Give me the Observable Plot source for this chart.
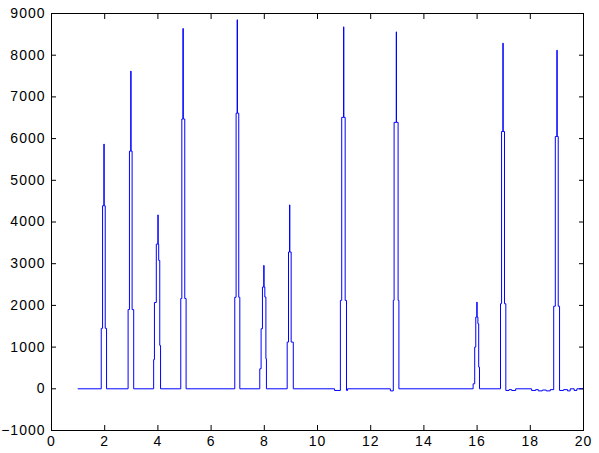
<!DOCTYPE html>
<html><head><meta charset="utf-8">
<script src="https://cdn.jsdelivr.net/npm/d3@7"></script>
<script src="https://cdn.jsdelivr.net/npm/@observablehq/plot@0.6"></script>
<style>body{margin:0;background:#fff} svg text{letter-spacing:1px}</style>
</head><body><div id="chart"></div>
<script>
// Signal sample positions (x) and values held until the next sample (step-after)
const sampleX = [
  1.0,
  1.87, 1.92, 1.97, 1.98, 2.02, 2.07,
  2.88, 2.93, 2.98, 2.99, 3.03, 3.09,
  3.84, 3.87, 3.94, 4.0, 4.01, 4.03, 4.07, 4.1,
  4.86, 4.9, 4.94, 4.955, 5.01, 5.06,
  6.89, 6.94, 6.98, 6.99, 7.04, 7.08,
  7.83, 7.88, 7.93, 7.98, 7.99, 8.02, 8.06, 8.08,
  8.86, 8.91, 8.95, 8.96, 9.01, 9.09,
  10.64, 10.86, 10.91, 10.98, 10.99, 11.04, 11.09, 11.13,
  12.74, 12.85, 12.88, 12.96, 12.97, 13.03, 13.06,
  15.85, 15.91, 15.95, 15.99, 16.0, 16.03, 16.06, 16.09,
  16.88, 16.92, 16.97, 16.98, 17.03, 17.08, 17.2, 17.3, 17.45,
  18.05, 18.2, 18.3, 18.45, 18.6, 18.75,
  18.88, 18.94, 19.0, 19.01, 19.05, 19.1, 19.25, 19.4, 19.5, 19.65, 19.75, 20.0
];
const sampleY = [
  0,
  1450, 4390, 5870, 4390, 1450, 0,
  1900, 5700, 7620, 5700, 1900, 0,
  700, 2070, 3470, 4170, 3470, 3080, 1040, 0,
  2165, 6470, 8640, 6470, 2165, 0,
  2195, 6610, 8850, 6610, 2195, 0,
  480, 1440, 2440, 2960, 2440, 2200, 720, 0,
  1120, 3280, 4410, 3280, 1120, 0,
  -40, 2120, 6510, 8680, 6510, 2120, -40, 0,
  -50, 2120, 6390, 8560, 6390, 2120, 0,
  120, 1000, 1720, 2080, 1720, 1560, 520, 0,
  2040, 6170, 8290, 6170, 2040, -40, -20, -40, 0,
  -40, -20, -50, -30, -50, -20,
  1980, 6050, 8120, 6050, 1980, -40, -20, -50, 0, -40, 0, 0
];
const xTicks = [0, 2, 4, 6, 8, 10, 12, 14, 16, 18, 20];
const yTicks = [-1000, 0, 1000, 2000, 3000, 4000, 5000, 6000, 7000, 8000, 9000];

const data = sampleX.map((x, i) => ({x, y: sampleY[i]}));

const chart = Plot.plot({
  width: 599, height: 453,
  marginLeft: 51, marginRight: 16, marginTop: 13, marginBottom: 23,
  style: {fontFamily: "'Liberation Sans', Arial, sans-serif", fontSize: "14px", background: "#fff", color: "#000"},
  x: {domain: [0, 20]},
  y: {domain: [-1000, 9000]},
  marks: [
    Plot.axisX(xTicks, {anchor: "bottom", tickSize: -5, tickPadding: 11, tickFormat: d3.format("d"), label: null, stroke: "#000"}),
    Plot.axisX(xTicks, {anchor: "top", tickSize: -5, tickFormat: () => "", label: null, stroke: "#000"}),
    Plot.axisY(yTicks, {anchor: "left", tickSize: -5, tickPadding: 11, tickFormat: d3.format("d"), label: null, stroke: "#000"}),
    Plot.axisY(yTicks, {anchor: "right", tickSize: -5, tickFormat: () => "", label: null, stroke: "#000"}),
    Plot.line(data, {x: "x", y: "y", curve: "step-after", stroke: "#0000ff", strokeWidth: 1}),
    Plot.frame({stroke: "#000"})
  ]
});
document.getElementById("chart").append(chart);
</script>
</body></html>
